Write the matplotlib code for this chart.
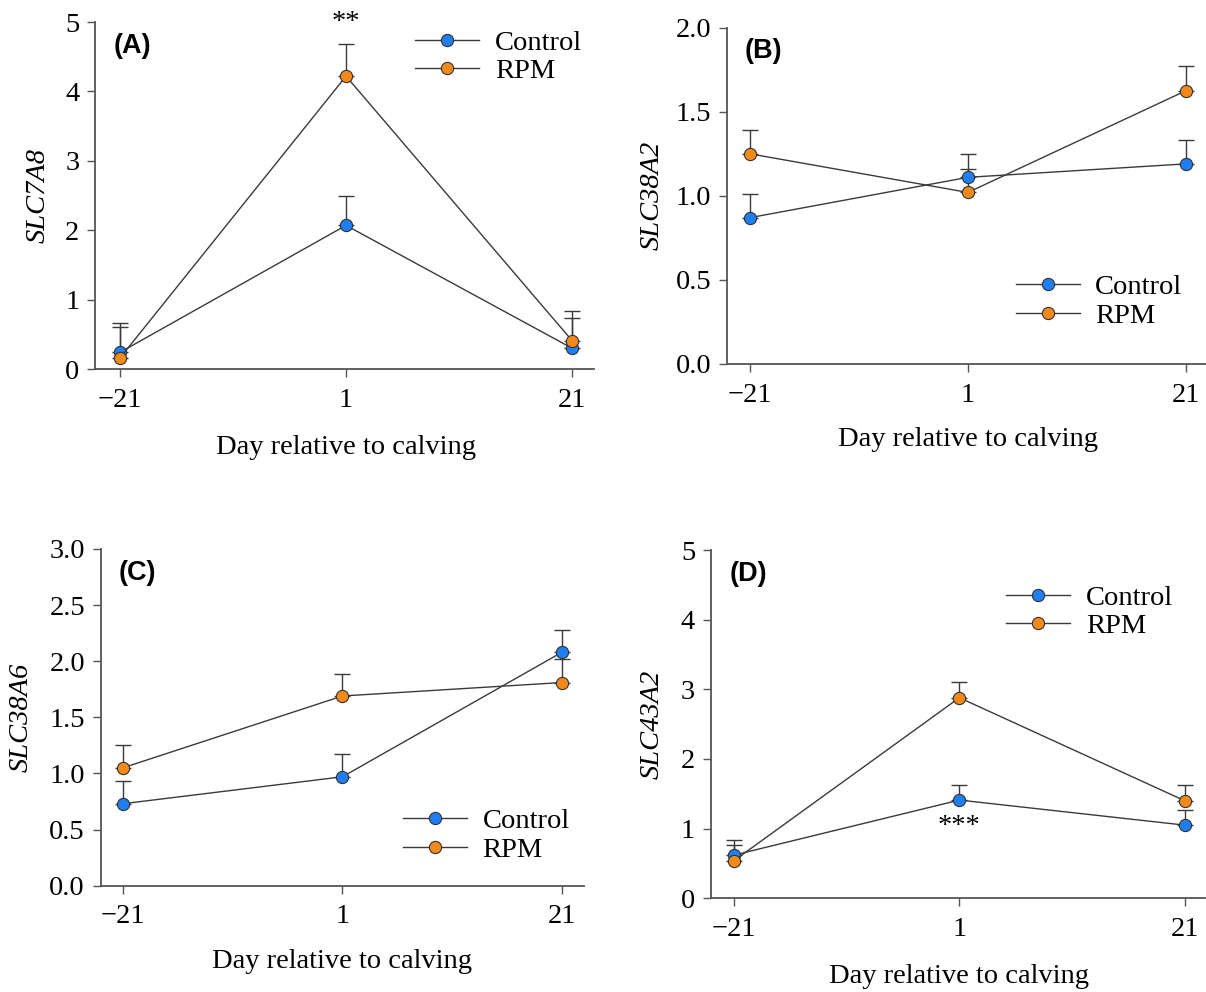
import matplotlib
matplotlib.use("Agg")
import matplotlib.pyplot as plt
from matplotlib.transforms import blended_transform_factory

plt.rcParams['font.family'] = ['Liberation Serif', 'DejaVu Serif']

# days relative to calving (plotted at evenly spaced positions)
days = ['\u221221', '1', '21']

# (A) SLC7A8
a_ctrl = [0.24, 2.07, 0.30]
a_ctrl_err = [0.36, 0.43, 0.44]
a_rpm = [0.16, 4.22, 0.41]
a_rpm_err = [0.51, 0.47, 0.43]

# (B) SLC38A2
b_ctrl = [0.87, 1.11, 1.19]
b_ctrl_err = [0.14, 0.14, 0.14]
b_rpm = [1.25, 1.02, 1.625]
b_rpm_err = [0.14, 0.14, 0.145]

# (C) SLC38A6
c_ctrl = [0.73, 0.97, 2.08]
c_ctrl_err = [0.20, 0.20, 0.20]
c_rpm = [1.05, 1.69, 1.81]
c_rpm_err = [0.20, 0.20, 0.21]

# (D) SLC43A2
d_ctrl = [0.62, 1.41, 1.05]
d_ctrl_err = [0.21, 0.22, 0.22]
d_rpm = [0.54, 2.88, 1.40]
d_rpm_err = [0.23, 0.22, 0.22]

blue = '#1f7ef0'
orange = '#f28a1a'
dark = '#3a3a3a'
fs = 20.5

panels = [
    # label, gene, ctrl, ctrl_err, rpm, rpm_err, ylim, yticks, fmt, rect, legend anchor, ylabel x, xlim
    ('(A)', 'SLC7A8', a_ctrl, a_ctrl_err, a_rpm, a_rpm_err, 5, [0, 1, 2, 3, 4, 5], '%d',
     [0.0791, 0.628, 0.4134, 0.3498], (0.641, 0.899), -0.115, (-0.109, 2.097)),
    ('(B)', 'SLC38A2', b_ctrl, b_ctrl_err, b_rpm, b_rpm_err, 2.0, [0, 0.5, 1.0, 1.5, 2.0], '%.1f',
     [0.6028, 0.6331, 0.3968, 0.339], (0.603, 0.186), -0.157, (-0.105, 2.09)),
    ('(C)', 'SLC38A6', c_ctrl, c_ctrl_err, c_rpm, c_rpm_err, 3.0, [0, 0.5, 1.0, 1.5, 2.0, 2.5, 3.0], '%.1f',
     [0.0837, 0.1072, 0.4005, 0.3394], (0.625, 0.148), -0.166, (-0.1, 2.1)),
    ('(D)', 'SLC43A2', d_ctrl, d_ctrl_err, d_rpm, d_rpm_err, 5, [0, 1, 2, 3, 4, 5], '%d',
     [0.5896, 0.0945, 0.4096, 0.351], (0.597, 0.822), -0.119, (-0.102, 2.09)),
]

fig = plt.figure(figsize=(12.06, 9.92), dpi=100)
x = [0, 1, 2]

axes = []
for (lab, gene, ctrl, cerr, rpm, rerr, ytop, yt, fmt, rect, leg, ylx, xl) in panels:
    ax = fig.add_axes(rect)
    axes.append(ax)
    for vals, err, col, name in [(ctrl, cerr, blue, 'Control'), (rpm, rerr, orange, 'RPM')]:
        ax.errorbar(x, vals, yerr=[[0, 0, 0], err], fmt='none', ecolor=dark,
                    elinewidth=1.0, capsize=5.5, capthick=1.0, zorder=2)
        ax.plot(x, vals, '-', color=dark, lw=1.0, marker='o', markersize=8.8,
                markerfacecolor=col, markeredgecolor='#333333', markeredgewidth=0.8,
                label=name, zorder=3, clip_on=False)
    ax.set_xlim(*xl)
    ax.set_ylim(0, ytop)
    ax.set_xticks(x)
    ax.set_xticklabels(days)
    ax.set_yticks(yt)
    ax.set_yticklabels([fmt % v for v in yt])
    for s in ['top', 'right']:
        ax.spines[s].set_visible(False)
    for s in ['left', 'bottom']:
        ax.spines[s].set_color('#555555')
        ax.spines[s].set_linewidth(1.3)
    ax.tick_params(direction='out', length=5.5, width=1.0, color='#555555',
                   labelsize=fs, labelcolor='black')
    ax.tick_params(axis='x', pad=8)
    ax.tick_params(axis='y', pad=6)
    ax.text(0.037, 0.93, lab, transform=ax.transAxes, fontsize=19.5, fontweight='bold',
            family=['Liberation Sans', 'DejaVu Sans'], ha='left', va='center')
    ax.text(ylx, 0.5, gene, transform=ax.transAxes, rotation=90, fontsize=fs,
            style='italic', ha='center', va='center')
    trans = blended_transform_factory(ax.transData, ax.transAxes)
    ax.text(1, -0.226, 'Day relative to calving', transform=trans, fontsize=fs,
            ha='center', va='center')
    ax.legend(loc='center left', bbox_to_anchor=leg, frameon=False, fontsize=fs,
              handlelength=2.25, handletextpad=0.55, labelspacing=0.1,
              borderpad=0, borderaxespad=0)

axes[0].text(1, 5.0, '**', fontsize=fs, ha='center', va='center')
axes[3].text(1, 1.03, '***', fontsize=fs, ha='center', va='center')

fig.savefig('out.png', dpi=100)
